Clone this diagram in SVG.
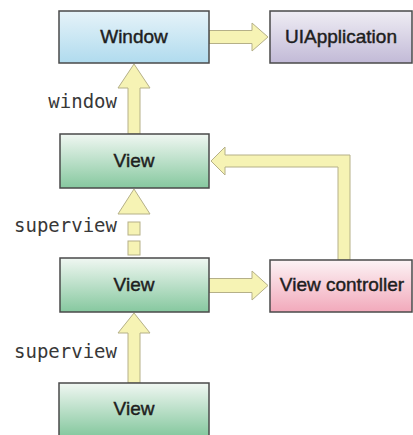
<svg xmlns="http://www.w3.org/2000/svg" width="413" height="435" viewBox="0 0 413 435">
  <defs>
    <linearGradient id="gWin" x1="0" y1="0" x2="0" y2="1">
      <stop offset="0" stop-color="#e6f3f9"/>
      <stop offset="1" stop-color="#b0dbee"/>
    </linearGradient>
    <linearGradient id="gApp" x1="0" y1="0" x2="0" y2="1">
      <stop offset="0" stop-color="#efedf4"/>
      <stop offset="1" stop-color="#c2bad7"/>
    </linearGradient>
    <linearGradient id="gView" x1="0" y1="0" x2="0" y2="1">
      <stop offset="0" stop-color="#f0f7f2"/>
      <stop offset="1" stop-color="#86c89f"/>
    </linearGradient>
    <linearGradient id="gVC" x1="0" y1="0" x2="0" y2="1">
      <stop offset="0" stop-color="#fcf3f5"/>
      <stop offset="1" stop-color="#f2a9bb"/>
    </linearGradient>
  </defs>
  <style>
    .box { stroke: #4a4a4a; stroke-width: 1.5; }
    .lbl { font-family: "Liberation Sans", Arial, sans-serif; font-size: 19px; fill: #1e1e1e; stroke: #1e1e1e; stroke-width: 0.45; text-anchor: middle; }
    .mono { font-family: "DejaVu Sans Mono", "Liberation Mono", monospace; font-size: 19px; fill: #383838; text-anchor: end; }
    .arr { fill: #f6f3b4; stroke: #b5b088; stroke-width: 1; stroke-linejoin: miter; }
  </style>
  <rect width="413" height="435" fill="#ffffff"/>

  <g id="connectors">
    <!-- Window -> UIApplication -->
    <polygon class="arr" points="209,30.5 252,30.5 252,23 268,37 252,51 252,43.5 209,43.5"/>
    <!-- View1 -> Window (window) -->
    <polygon class="arr" points="128,134 128,88 118,88 134,64 150,88 140,88 140,134"/>
    <!-- View2 -> View1 (superview, dotted) -->
    <polygon class="arr" points="118,214 134,189 150,214"/>
    <rect class="arr" x="128" y="222" width="12" height="13"/>
    <rect class="arr" x="128" y="241" width="12" height="14"/>
    <!-- View3 -> View2 (superview) -->
    <polygon class="arr" points="128,383 128,333 118,333 134,313 150,333 140,333 140,383"/>
    <!-- View2 -> View controller -->
    <polygon class="arr" points="209,278.5 252,278.5 252,271 268,285.5 252,300 252,292.5 209,292.5"/>
    <!-- View controller -> View1 -->
    <polygon class="arr" points="338,260 338,167 225,167 225,175 211,161 225,147 225,155 350,155 350,260"/>
  </g>

  <g id="window-label"><text class="mono" x="117" y="108">window</text></g>
  <g id="superview-label-1"><text class="mono" x="117" y="232">superview</text></g>
  <g id="superview-label-2"><text class="mono" x="117" y="358">superview</text></g>

  <g id="window">
    <rect class="box" x="59" y="11" width="150" height="52" fill="url(#gWin)"/>
    <text class="lbl" x="134" y="43">Window</text>
  </g>
  <g id="uiapplication">
    <rect class="box" x="270" y="11" width="142" height="52" fill="url(#gApp)"/>
    <text class="lbl" x="341" y="43">UIApplication</text>
  </g>
  <g id="view1">
    <rect class="box" x="60" y="134" width="149" height="54" fill="url(#gView)"/>
    <text class="lbl" x="134" y="167">View</text>
  </g>
  <g id="view2">
    <rect class="box" x="60" y="258" width="149" height="54" fill="url(#gView)"/>
    <text class="lbl" x="134" y="291">View</text>
  </g>
  <g id="view3">
    <rect class="box" x="59" y="383" width="150" height="53" fill="url(#gView)"/>
    <text class="lbl" x="134" y="415">View</text>
  </g>
  <g id="view-controller">
    <rect class="box" x="270" y="260" width="142" height="52" fill="url(#gVC)"/>
    <text class="lbl" x="342" y="291">View controller</text>
  </g>
</svg>
